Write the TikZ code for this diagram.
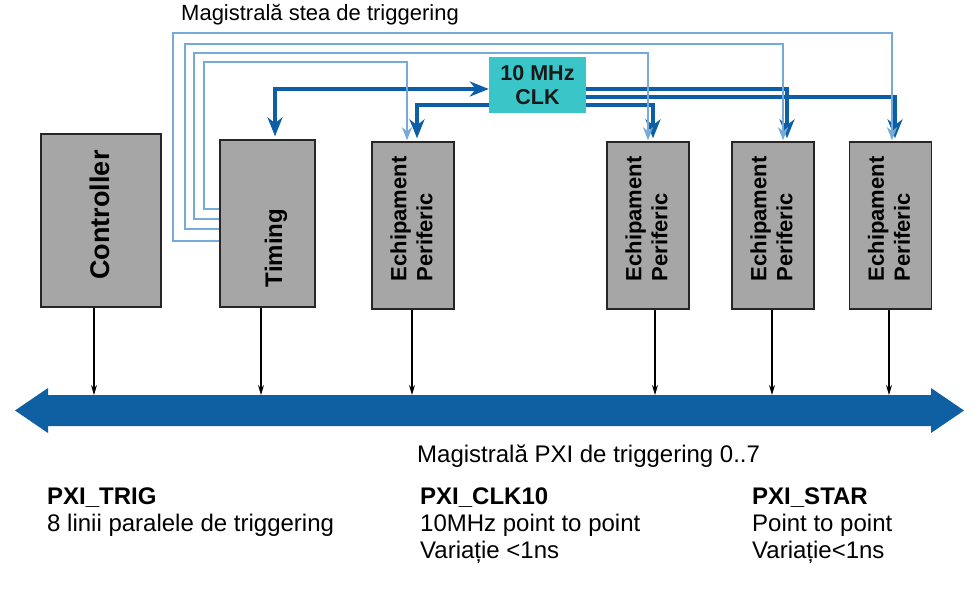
\documentclass[tikz,border=0pt]{standalone}
\usepackage{fontspec}
\setmainfont{Liberation Sans}
\usetikzlibrary{arrows.meta}

\definecolor{boxgray}{RGB}{166,166,166}
\definecolor{starblue}{RGB}{118,170,216}
\definecolor{clkblue}{RGB}{12,94,166}
\definecolor{busblue}{RGB}{14,96,163}
\definecolor{clkcyan}{RGB}{58,198,200}

\begin{document}
\begin{tikzpicture}[x=1pt, y=-1pt,
	unit/.style={draw=black!85, line width=1.4pt, fill=boxgray, inner sep=0pt},
	unittext/.style={rotate=90, align=left, inner sep=0pt},
	starline/.style={draw=starblue, line width=2.6pt, shorten >=1pt, -{Stealth[length=13pt,width=10pt,inset=4pt]}},
	clkline/.style={draw=clkblue, line width=4pt, shorten >=3pt, -{Stealth[length=19pt,width=15pt,inset=6pt]}},
	busline/.style={black, line width=1.2pt, -{Stealth[length=10pt,width=6pt]}},
	plain/.style={font=\fontsize{24}{27}\selectfont, align=left, inner sep=0pt}]
	\useasboundingbox (0,0) rectangle (979,593);
	
	\coordinate (T1) at (275,89);
	\coordinate (P1) at (417,105);
	\coordinate (P2) at (653,105);
	\coordinate (P3) at (787,89);
	\coordinate (P4) at (895,97);
	
	\coordinate (S1) at (204,62);
	\coordinate (S2) at (194,53);
	\coordinate (S3) at (185,44);
	\coordinate (S4) at (173,33);
	
	\coordinate (bus) at (0,395);
	
	% modules
	\node[unit, minimum width=120pt, minimum height=173pt] (ctrl) at (101,220.5) {};
	\node[unit, minimum width=95pt, minimum height=167pt] (tim) at (267.5,223.5) {};
	\node[unit, minimum width=82pt, minimum height=167pt] (per1) at (413,225.5) {};
	\node[unit, minimum width=82pt, minimum height=167pt] (per2) at (648,225.5) {};
	\node[unit, minimum width=82pt, minimum height=167pt] (per3) at (773,225.5) {};
	\node[unit, minimum width=82pt, minimum height=167pt] (per4) at (890.5,225.5) {};
	
	\node[unittext, font=\bfseries\fontsize{27}{30}\selectfont] (ctrltxt) at (100,215) {Controller};
	\node[unittext, font=\bfseries\fontsize{24}{27}\selectfont] (timtxt) at (276,248) {Timing};
	\node[unittext, font=\bfseries\fontsize{22}{26}\selectfont] (per1txt) at (411.5,219) {Echipament\\Periferic};
	\node[unittext, font=\bfseries\fontsize{22}{26}\selectfont] (per2txt) at (646.5,219) {Echipament\\Periferic};
	\node[unittext, font=\bfseries\fontsize{22}{26}\selectfont] (per3txt) at (771.5,219) {Echipament\\Periferic};
	\node[unittext, font=\bfseries\fontsize{22}{26}\selectfont] (per4txt) at (889,219) {Echipament\\Periferic};
	
	\node[fill=clkcyan, minimum width=97pt, minimum height=56pt, inner sep=0pt, align=center,
		text=black!90, font=\bfseries\fontsize{21.5}{24}\selectfont] (clk) at (537.5,85) {10 MHz\\CLK};
	
	% PXI bus
	\fill[busblue] (15,410.5) -- (48,388) -- (48,395) -- (931,395) -- (931,388) -- (964,410.5)
		-- (931,433) -- (931,426) -- (48,426) -- (48,433) -- cycle;
	
	\draw[busline] ([xshift=-7pt]ctrl.south) -- ([xshift=-7pt]ctrl.south |- bus);
	\draw[busline] ([xshift=-6.5pt]tim.south) -- ([xshift=-6.5pt]tim.south |- bus);
	\draw[busline] ([xshift=-1pt]per1.south) -- ([xshift=-1pt]per1.south |- bus);
	\draw[busline] ([xshift=7pt]per2.south) -- ([xshift=7pt]per2.south |- bus);
	\draw[busline] ([xshift=-1pt]per3.south) -- ([xshift=-1pt]per3.south |- bus);
	\draw[busline] ([xshift=-1.5pt]per4.south) -- ([xshift=-1.5pt]per4.south |- bus);
	
	% clock lines
	\draw[clkline, {Stealth[length=19pt,width=15pt,inset=6pt]}-{Stealth[length=19pt,width=15pt,inset=6pt]}, shorten <=3pt, shorten >=0pt]
		([xshift=7.5pt]tim.north) -- (T1) -- (clk.west |- T1);
	\draw[clkline] (clk.west |- P1) -- (P1) -- ([xshift=4pt]per1.north);
	\draw[clkline] (clk.east |- P2) -- (P2) -- ([xshift=5pt]per2.north);
	\draw[clkline] (clk.east |- P3) -- (P3) -- ([xshift=14pt]per3.north);
	\draw[clkline] (clk.east |- P4) -- (P4) -- ([xshift=4.5pt]per4.north);
	
	% star trigger lines
	\draw[starline] (tim.west |- 0,209) -| (S1) -| ([xshift=-6pt]per1.north);
	\draw[starline] (tim.west |- 0,219) -| (S2) -| (per2.north);
	\draw[starline] (tim.west |- 0,229) -| (S3) -| ([xshift=10pt]per3.north);
	\draw[starline] (tim.west |- 0,241) -| (S4) -| ([xshift=1.5pt]per4.north);
	
	% labels
	\node[anchor=west, inner sep=0pt, font=\fontsize{22}{26}\selectfont] (starlbl) at (181,15) {Magistrală stea de triggering};
	\node[plain, anchor=west] (buslbl) at (417,456) {Magistrală PXI de triggering 0..7};
	
	\node[plain, anchor=north west] (trig) at (47,488) {\textbf{PXI\_TRIG}\\8 linii paralele de triggering};
	\node[plain, anchor=north west] (clk10) at (420,488) {\textbf{PXI\_CLK10}\\10MHz point to point\\Variație <1ns};
	\node[plain, anchor=north west] (star) at (752,488) {\textbf{PXI\_STAR}\\Point to point\\Variație<1ns};
\end{tikzpicture}
\end{document}
